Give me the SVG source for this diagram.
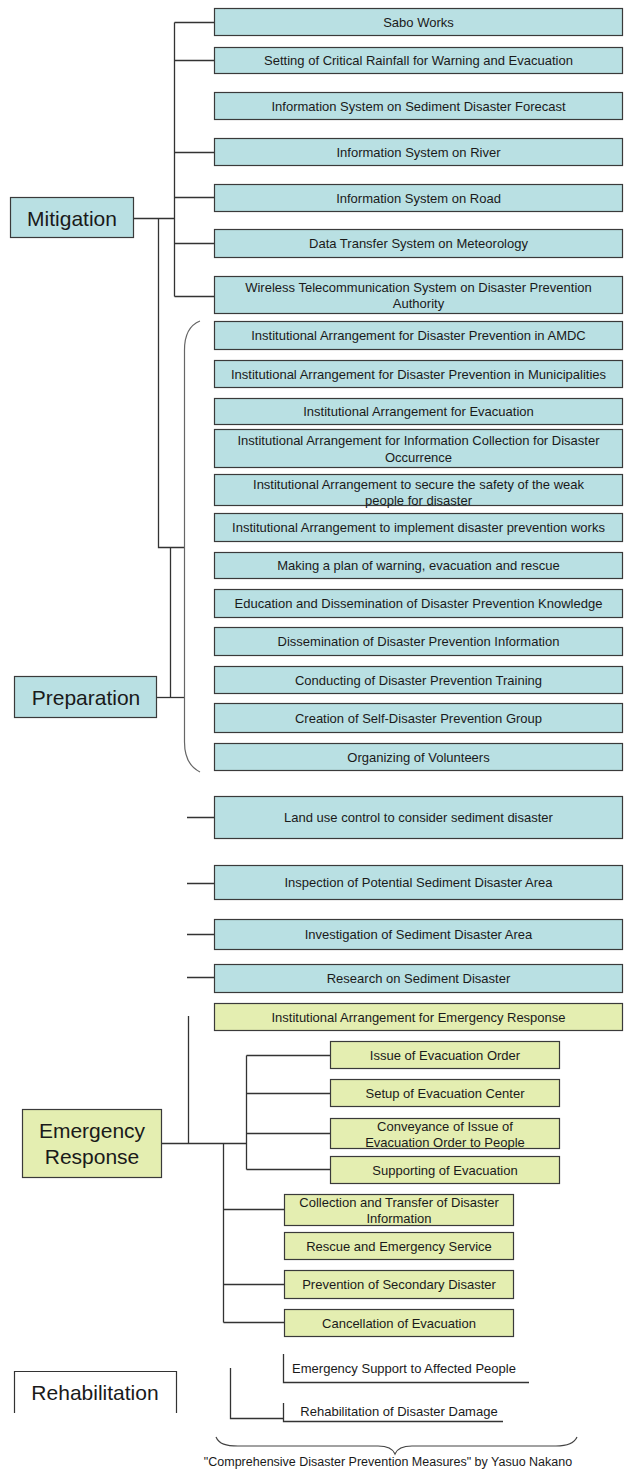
<svg xmlns="http://www.w3.org/2000/svg" width="626" height="1481" viewBox="0 0 626 1481">
<style>
  .b { fill:#B9E0E3; stroke:#3a3a3a; stroke-width:1.2; }
  .y { fill:#E4EEB1; stroke:#3a3a3a; stroke-width:1.2; }
  .w { fill:#ffffff; stroke:#333333; stroke-width:1.2; }
  text { font-family:"Liberation Sans", Arial, sans-serif; fill:#1a1a1a; text-anchor:middle; }
  .t { font-size:13px; }
  .h { font-size:21px; }
  .cap { font-size:12.5px; }
  .c path { fill:none; stroke:#333333; stroke-width:1.3; }
  .br { fill:none; stroke:#666666; stroke-width:1.2; }
</style>
<rect width="626" height="1481" fill="#ffffff"/>

<g id="connectors" class="c">
  <path d="M134,218.5 H174.5"/>
  <path d="M174.5,22.5 V296.5"/>
  <path d="M174.5,22.5 H215 M174.5,60.5 H215 M174.5,152.5 H215 M174.5,197.5 H215 M174.5,243.5 H215 M174.5,296.5 H215"/>
  <path d="M158.5,218.5 V547.5 H184"/>
  <path d="M170.5,547.5 V697.5"/>
  <path d="M157,697.5 H184"/>
  <path d="M187,817.5 H215 M187,883.5 H215 M187,934.5 H215 M187,977.5 H215"/>
  <path d="M188.5,1016 V1143.5"/>
  <path d="M162,1143.5 H246.5"/>
  <path d="M246.5,1055.5 V1169.5"/>
  <path d="M246.5,1055.5 H330 M246.5,1093.5 H330 M246.5,1133.5 H330 M246.5,1169.5 H330"/>
  <path d="M223.5,1143.5 V1322.5"/>
  <path d="M223.5,1209.5 H284 M223.5,1284.5 H284 M223.5,1322.5 H284"/>
  <path d="M230.5,1368 V1418.5 H283.5"/>
  <path d="M283.5,1354 V1382.5 H529"/>
  <path d="M283.5,1403 V1421.5 H503"/>
</g>

<g id="brace-preparation">
  <path class="br" d="M200,321 C190,325 184.5,334 184.5,350 L184.5,742 C184.5,757 190,767 200,772"/>
</g>

<g id="mitigation">
  <rect class="b" x="10.5" y="197.5" width="123" height="40"/>
  <text class="h" x="72" y="225.5">Mitigation</text>
</g>
<g id="preparation">
  <rect class="b" x="14.5" y="676.5" width="142" height="41"/>
  <text class="h" x="86" y="705">Preparation</text>
</g>
<g id="emergency-response">
  <rect class="y" x="22.5" y="1109.5" width="139" height="68"/>
  <text class="h" x="92" y="1137.5">Emergency</text>
  <text class="h" x="92" y="1163.5">Response</text>
</g>
<g id="rehabilitation">
  <path class="w" d="M14.5,1413 V1371.5 H176.5 V1413"/>
  <text class="h" x="95" y="1400">Rehabilitation</text>
</g>

<g id="n1"><rect class="b" x="214.5" y="8.5" width="408" height="27"/><text class="t" x="418.5" y="26.5">Sabo Works</text></g>
<g id="n2"><rect class="b" x="214.5" y="47.5" width="408" height="26"/><text class="t" x="418.5" y="65">Setting of Critical Rainfall for Warning and Evacuation</text></g>
<g id="n3"><rect class="b" x="214.5" y="92.5" width="408" height="27"/><text class="t" x="418.5" y="110.5">Information System on Sediment Disaster Forecast</text></g>
<g id="n4"><rect class="b" x="214.5" y="138.5" width="408" height="27"/><text class="t" x="418.5" y="156.5">Information System on River</text></g>
<g id="n5"><rect class="b" x="214.5" y="184.5" width="408" height="27"/><text class="t" x="418.5" y="202.5">Information System on Road</text></g>
<g id="n6"><rect class="b" x="214.5" y="229.5" width="408" height="28"/><text class="t" x="418.5" y="248">Data Transfer System on Meteorology</text></g>
<g id="n7"><rect class="b" x="214.5" y="276.5" width="408" height="37"/><text class="t" x="418.5" y="291.5">Wireless Telecommunication System on Disaster Prevention</text><text class="t" x="418.5" y="307.5">Authority</text></g>
<g id="n8"><rect class="b" x="214.5" y="321.5" width="408" height="28"/><text class="t" x="418.5" y="340">Institutional Arrangement for Disaster Prevention in AMDC</text></g>
<g id="n9"><rect class="b" x="214.5" y="360.5" width="408" height="27"/><text class="t" x="418.5" y="378.5">Institutional Arrangement for Disaster Prevention in Municipalities</text></g>
<g id="n10"><rect class="b" x="214.5" y="398.5" width="408" height="26"/><text class="t" x="418.5" y="416">Institutional Arrangement for Evacuation</text></g>
<g id="n11"><rect class="b" x="214.5" y="429.5" width="408" height="38"/><text class="t" x="418.5" y="444.5">Institutional Arrangement for Information Collection for Disaster</text><text class="t" x="418.5" y="461.5">Occurrence</text></g>
<g id="n12"><rect class="b" x="214.5" y="474.5" width="408" height="31"/><text class="t" x="418.5" y="488.5">Institutional Arrangement to secure the safety of the weak</text><text class="t" x="418.5" y="504.5">people for disaster</text></g>
<g id="n13"><rect class="b" x="214.5" y="513.5" width="408" height="28"/><text class="t" x="418.5" y="532">Institutional Arrangement to implement disaster prevention works</text></g>
<g id="n14"><rect class="b" x="214.5" y="552.5" width="408" height="26"/><text class="t" x="418.5" y="570">Making a plan of warning, evacuation and rescue</text></g>
<g id="n15"><rect class="b" x="214.5" y="589.5" width="408" height="28"/><text class="t" x="418.5" y="608">Education and Dissemination of Disaster Prevention Knowledge</text></g>
<g id="n16"><rect class="b" x="214.5" y="627.5" width="408" height="28"/><text class="t" x="418.5" y="646">Dissemination of Disaster Prevention Information</text></g>
<g id="n17"><rect class="b" x="214.5" y="666.5" width="408" height="27"/><text class="t" x="418.5" y="684.5">Conducting of Disaster Prevention Training</text></g>
<g id="n18"><rect class="b" x="214.5" y="703.5" width="408" height="29"/><text class="t" x="418.5" y="722.5">Creation of Self-Disaster Prevention Group</text></g>
<g id="n19"><rect class="b" x="214.5" y="743.5" width="408" height="27"/><text class="t" x="418.5" y="761.5">Organizing of Volunteers</text></g>
<g id="n20"><rect class="b" x="214.5" y="796.5" width="408" height="42"/><text class="t" x="418.5" y="822">Land use control to consider sediment disaster</text></g>
<g id="n21"><rect class="b" x="214.5" y="865.5" width="408" height="34"/><text class="t" x="418.5" y="887">Inspection of Potential Sediment Disaster Area</text></g>
<g id="n22"><rect class="b" x="214.5" y="919.5" width="408" height="30"/><text class="t" x="418.5" y="939">Investigation of Sediment Disaster Area</text></g>
<g id="n23"><rect class="b" x="214.5" y="964.5" width="408" height="28"/><text class="t" x="418.5" y="983">Research on Sediment Disaster</text></g>

<g id="e1"><rect class="y" x="214.5" y="1003.5" width="408" height="27"/><text class="t" x="418.5" y="1021.5">Institutional Arrangement for Emergency Response</text></g>
<g id="e2"><rect class="y" x="330.5" y="1041.5" width="229" height="27"/><text class="t" x="445" y="1059.5">Issue of Evacuation Order</text></g>
<g id="e3"><rect class="y" x="330.5" y="1079.5" width="229" height="27"/><text class="t" x="445" y="1097.5">Setup of Evacuation Center</text></g>
<g id="e4"><rect class="y" x="330.5" y="1118.5" width="229" height="30"/><text class="t" x="445" y="1130.5">Conveyance of Issue of</text><text class="t" x="445" y="1146.5">Evacuation Order to People</text></g>
<g id="e5"><rect class="y" x="330.5" y="1156.5" width="229" height="27"/><text class="t" x="445" y="1174.5">Supporting of Evacuation</text></g>
<g id="e6"><rect class="y" x="284.5" y="1194.5" width="229" height="31"/><text class="t" x="399" y="1206.5">Collection and Transfer of Disaster</text><text class="t" x="399" y="1222.5">Information</text></g>
<g id="e7"><rect class="y" x="284.5" y="1232.5" width="229" height="27"/><text class="t" x="399" y="1250.5">Rescue and Emergency Service</text></g>
<g id="e8"><rect class="y" x="284.5" y="1270.5" width="229" height="28"/><text class="t" x="399" y="1289">Prevention of Secondary Disaster</text></g>
<g id="e9"><rect class="y" x="284.5" y="1309.5" width="229" height="27"/><text class="t" x="399" y="1327.5">Cancellation of Evacuation</text></g>

<g id="r1"><text class="t" x="404" y="1373">Emergency Support to Affected People</text></g>
<g id="r2"><text class="t" x="399" y="1415.5">Rehabilitation of Disaster Damage</text></g>

<g id="caption">
  <path class="br" style="stroke:#444444" d="M216,1437 C219,1444 226,1446 238,1446 L378,1446 C387,1446 393,1449 395,1454 C397,1449 403,1446 412,1446 L556,1446 C567,1446 574,1444 577,1437"/>
  <text class="cap" x="388" y="1466">"Comprehensive Disaster Prevention Measures" by Yasuo Nakano</text>
</g>
</svg>
